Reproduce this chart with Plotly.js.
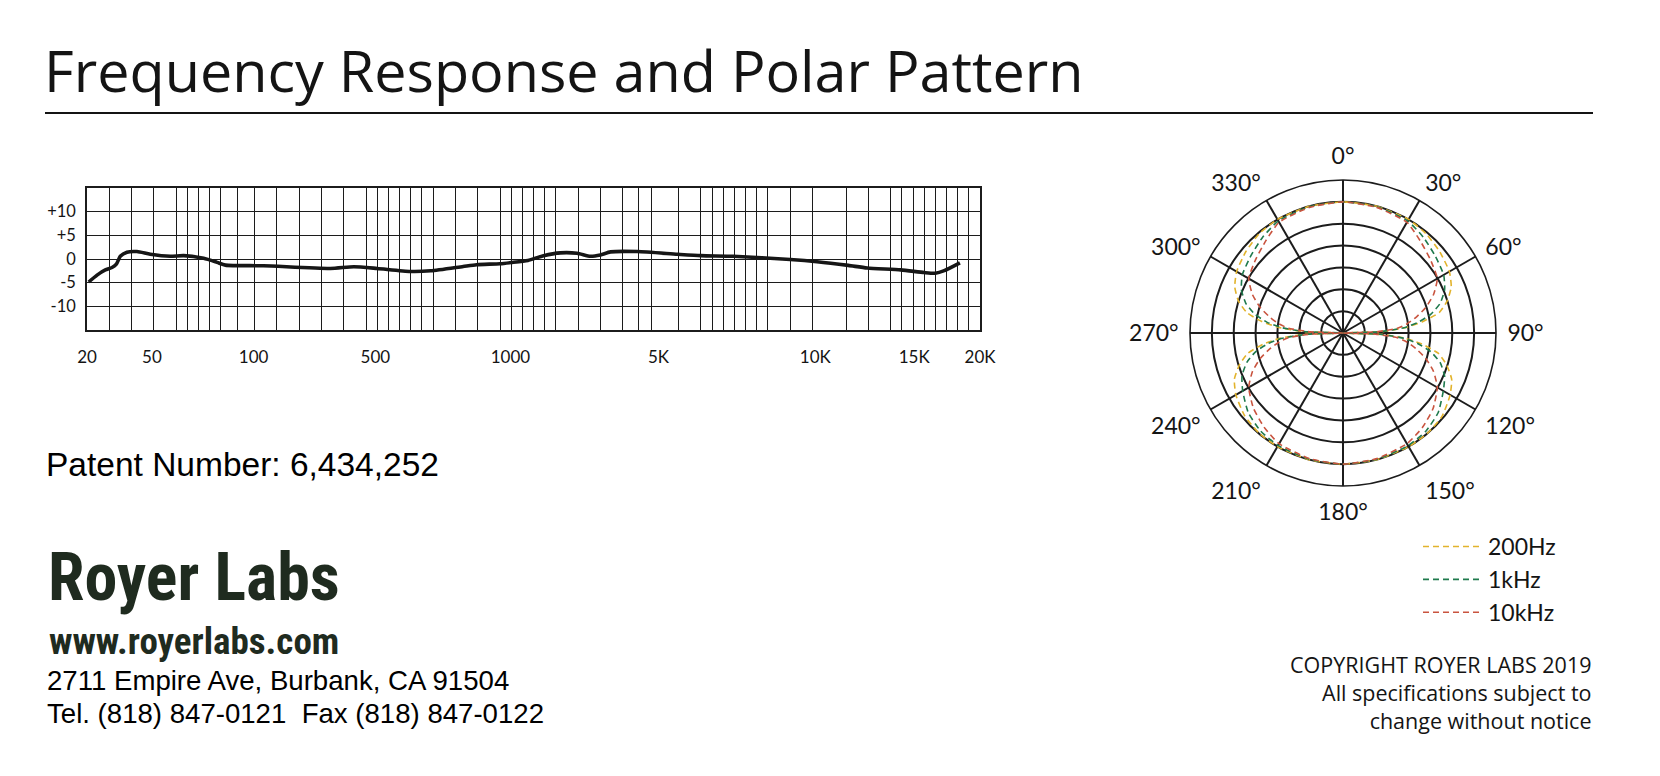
<!DOCTYPE html>
<html>
<head>
<meta charset="utf-8">
<script src="https://cdn.plot.ly/plotly-3.0.1.min.js"></script>
<style>
html,body{margin:0;padding:0;background:#fff;}
#chart{width:1660px;height:776px;}
</style>
</head>
<body>
<div id="chart"></div>
<script>
// ---------- DATA ----------
// Frequency response: x in chart-grid units (0 = 20 Hz, 80 = 20 kHz), y in dB
const responseX  = [0.15, 0.9, 1.64, 2.24, 2.63, 2.98, 3.58, 4.48, 5.67, 7.46, 8.66, 10.45, 11.65, 12.4, 15.8, 21.8, 23.9, 26.0, 28.97, 30.8, 33.7, 34.9, 37.0, 38.0, 39.5, 40.9, 42.4, 43.9, 45.1, 46.0, 46.9, 49.3, 52.9, 55.0, 57.9, 63.0, 65.4, 68.2, 69.9, 72.9, 75.0, 76.0, 76.8, 78.2];
const responseDB = [-4.86, -3.4, -2.3, -1.8, -1.1, 0.57, 1.43, 1.57, 1.0, 0.57, 0.71, 0.14, -0.71, -1.29, -1.43, -2.0, -1.64, -2.0, -2.64, -2.5, -1.57, -1.2, -1.0, -0.75, -0.3, 0.7, 1.3, 1.21, 0.57, 0.86, 1.5, 1.57, 1.0, 0.71, 0.57, -0.1, -0.57, -1.35, -1.9, -2.29, -2.86, -3.0, -2.45, -0.8];

// Tick labels of the frequency chart
const freqTickPos    = [0, 5.82, 14.93, 25.83, 37.93, 51.2, 65.25, 74.1, 80];
const freqTickLabels = ['20', '50', '100', '500', '1000', '5K', '10K', '15K', '20K'];
const freqGridPos    = [2, 4, 6, 8, 9, 10, 11, 12, 13.5, 15, 17, 19, 21, 23, 25, 26, 27, 28, 29, 30, 31, 33, 35, 37, 38, 39, 40, 41, 42, 44, 46, 48, 49.4, 50.6, 53, 55, 56, 57, 58, 59, 60, 61, 63, 65, 68, 70, 72, 73, 74, 75, 76, 77, 78, 79];
const dbTickVals   = [-10, -5, 0, 5, 10];
const dbTickLabels = ['-10', '-5', '0', '+5', '+10'];

// Polar pattern (angle in degrees, radius in ring units; 7 = outer ring)
const polarTheta = [0,15,30,40,50,60,67,73,78,82,85,88,90,92,95,98,102,107,113,120,130,140,150,165,180,195,210,220,230,240,247,253,258,262,265,268,270,272,275,278,282,287,293,300,310,320,330,345,360];
const r200Hz = [6.0,6.0,6.0,5.92,5.78,5.62,5.38,4.98,4.5,3.65,2.9,1.8,0, 1.8,2.9,3.65,4.45,4.95,5.4,5.66,5.92,6.0,6.0,6.0,6.0, 6.0,6.0,5.98,5.88,5.66,5.4,4.95,4.45,3.7,2.95,1.8,0, 1.8,2.95,3.75,4.5,5.0,5.38,5.62,5.8,5.95,6.0,6.0,6.0];
const r1kHz  = [6.0,5.98,5.92,5.72,5.5,5.32,5.05,4.65,4.1,3.45,2.8,1.7,0, 1.7,2.8,3.45,4.1,4.65,5.05,5.3,5.68,5.88,5.95,5.98,6.0, 5.98,5.94,5.86,5.66,5.3,5.02,4.6,4.08,3.45,2.8,1.7,0, 1.7,2.8,3.5,4.12,4.65,5.05,5.32,5.5,5.72,5.92,5.98,6.0];
const r10kHz = [6.0,5.95,5.85,5.5,5.22,4.98,4.5,3.95,3.4,2.95,2.5,1.5,0, 1.5,2.5,2.95,3.4,3.95,4.5,4.98,5.38,5.65,5.85,5.95,6.0, 5.95,5.85,5.62,5.35,4.98,4.5,3.95,3.4,2.95,2.5,1.5,0, 1.5,2.5,2.95,3.4,3.95,4.5,4.98,5.22,5.5,5.85,5.95,6.0];
const polarSeriesNames = ['200Hz', '1kHz', '10kHz'];
const polarTickVals   = [0,30,60,90,120,150,180,210,240,270,300,330];
const polarTickLabels = ['0°','30°','60°','90°','120°','150°','180°','210°','240°','270°','300°','330°'];

// Texts
const titleText = 'Frequency Response and Polar Pattern';
const patentText = 'Patent Number: 6,434,252';
const brandText = 'Royer Labs';
const webText = 'www.royerlabs.com';
const addressText = '2711 Empire Ave, Burbank, CA 91504';
const phoneText = 'Tel. (818) 847-0121\u00a0\u00a0Fax (818) 847-0122';
const copyrightLines = ['COPYRIGHT ROYER LABS 2019', 'All specifications subject to', 'change without notice'];

// ---------- LAYOUT ----------
const W = 1660, H = 776;
const fx = p => p / W;
const fy = p => 1 - p / H;
const GEO = 'Lato, "Open Sans", sans-serif';
const WIDE = '"Open Sans", Lato, sans-serif';
const HELV = '"Liberation Sans", Arial, sans-serif';
const BRAND = '"Roboto Condensed", Roboto, "Liberation Sans", sans-serif';
const ink = '#141414';
const gridInk = '#1c1c1c';
const brandGreen = '#1f2b1f';
const polarColors = ['#E2B32C', '#1F7A4D', '#C9543F'];
const polarR = [r200Hz, r1kHz, r10kHz];

const traces = [{
  type: 'scatter', mode: 'lines',
  x: responseX, y: responseDB,
  line: {color: '#161616', width: 3.6, shape: 'spline', smoothing: 0.6},
  showlegend: false, hoverinfo: 'skip'
}];
polarSeriesNames.forEach((n, i) => {
  traces.push({
    type: 'scatterpolar', mode: 'lines', name: n,
    theta: polarTheta, r: polarR[i],
    line: {color: polarColors[i], width: 1.6, dash: '6px,4px', shape: 'spline', smoothing: 0.5},
    hoverinfo: 'skip'
  });
});

const layout = {
  width: W, height: H,
  margin: {l: 0, r: 0, t: 0, b: 0},
  paper_bgcolor: '#fff', plot_bgcolor: 'rgba(0,0,0,0)',
  showlegend: true,
  title: {
    text: titleText,
    font: {family: WIDE, size: 57.5, color: ink},
    xref: 'container', yref: 'container',
    x: fx(44), xanchor: 'left', y: fy(72), yanchor: 'middle'
  },
  xaxis: {
    domain: [fx(87), fx(980)], range: [0, 80],
    tickmode: 'array', tickvals: freqTickPos, ticktext: freqTickLabels,
    showgrid: false, zeroline: false, ticks: '',
    minor: {tickmode: 'array', tickvals: freqGridPos, showgrid: true, gridcolor: gridInk, gridwidth: 1.4, ticks: ''},
    showline: true, mirror: true, linecolor: gridInk, linewidth: 1.6,
    ticklabelstandoff: 11,
    tickfont: {family: GEO, size: 17, color: ink},
    fixedrange: true
  },
  yaxis: {
    domain: [fy(330), fy(188)], range: [-15, 15],
    tickmode: 'array', tickvals: dbTickVals, ticktext: dbTickLabels,
    showgrid: true, gridcolor: gridInk, gridwidth: 1.4, zeroline: false, ticks: '',
    showline: true, mirror: true, linecolor: gridInk, linewidth: 1.6,
    ticklabelstandoff: 6,
    tickfont: {family: GEO, size: 16.5, color: ink},
    fixedrange: true
  },
  polar: {
    domain: {x: [fx(1190), fx(1496)], y: [fy(486), fy(180)]},
    bgcolor: 'rgba(0,0,0,0)',
    radialaxis: {range: [0, 7], tickvals: [1, 2, 3, 4, 5, 6], showticklabels: false, ticks: '', showline: false, gridcolor: gridInk, gridwidth: 1.5},
    angularaxis: {rotation: 90, direction: 'clockwise', tickmode: 'array', tickvals: polarTickVals, ticktext: polarTickLabels, ticks: 'outside', ticklen: 6, tickcolor: 'rgba(0,0,0,0)', gridcolor: gridInk, gridwidth: 1.5, linecolor: gridInk, linewidth: 1.6, tickfont: {family: GEO, size: 23, color: ink}}
  },
  legend: {
    x: fx(1418), y: fy(525), xanchor: 'left', yanchor: 'top',
    font: {family: GEO, size: 23, color: ink},
    bgcolor: 'rgba(0,0,0,0)', itemwidth: 60, tracegroupgap: 0
  },
  shapes: [{
    type: 'line', xref: 'paper', yref: 'paper',
    x0: fx(45), x1: fx(1593), y0: fy(113), y1: fy(113),
    line: {color: ink, width: 2}
  }],
  annotations: [
    {text: patentText, xref: 'paper', yref: 'paper', x: fx(44), y: fy(464), xanchor: 'left', yanchor: 'middle', showarrow: false, font: {family: HELV, size: 33.5, color: '#000'}},
    {text: brandText, xref: 'paper', yref: 'paper', x: fx(46), y: fy(577), xanchor: 'left', yanchor: 'middle', showarrow: false, font: {family: BRAND, size: 66, color: brandGreen, weight: 700}},
    {text: webText, xref: 'paper', yref: 'paper', x: fx(47), y: fy(641), xanchor: 'left', yanchor: 'middle', showarrow: false, font: {family: BRAND, size: 37, color: brandGreen, weight: 700}},
    {text: addressText, xref: 'paper', yref: 'paper', x: fx(45), y: fy(680), xanchor: 'left', yanchor: 'middle', showarrow: false, font: {family: HELV, size: 27.6, color: '#000'}},
    {text: phoneText, xref: 'paper', yref: 'paper', x: fx(45), y: fy(713), xanchor: 'left', yanchor: 'middle', showarrow: false, font: {family: HELV, size: 27.6, color: '#000'}},
    {text: copyrightLines.join('<br>'), xref: 'paper', yref: 'paper', x: fx(1593), y: fy(692), xanchor: 'right', yanchor: 'middle', align: 'right', showarrow: false, font: {family: WIDE, size: 21.5, color: ink}}
  ]
};

Plotly.newPlot('chart', traces, layout, {displayModeBar: false, responsive: false});
</script>
</body>
</html>
